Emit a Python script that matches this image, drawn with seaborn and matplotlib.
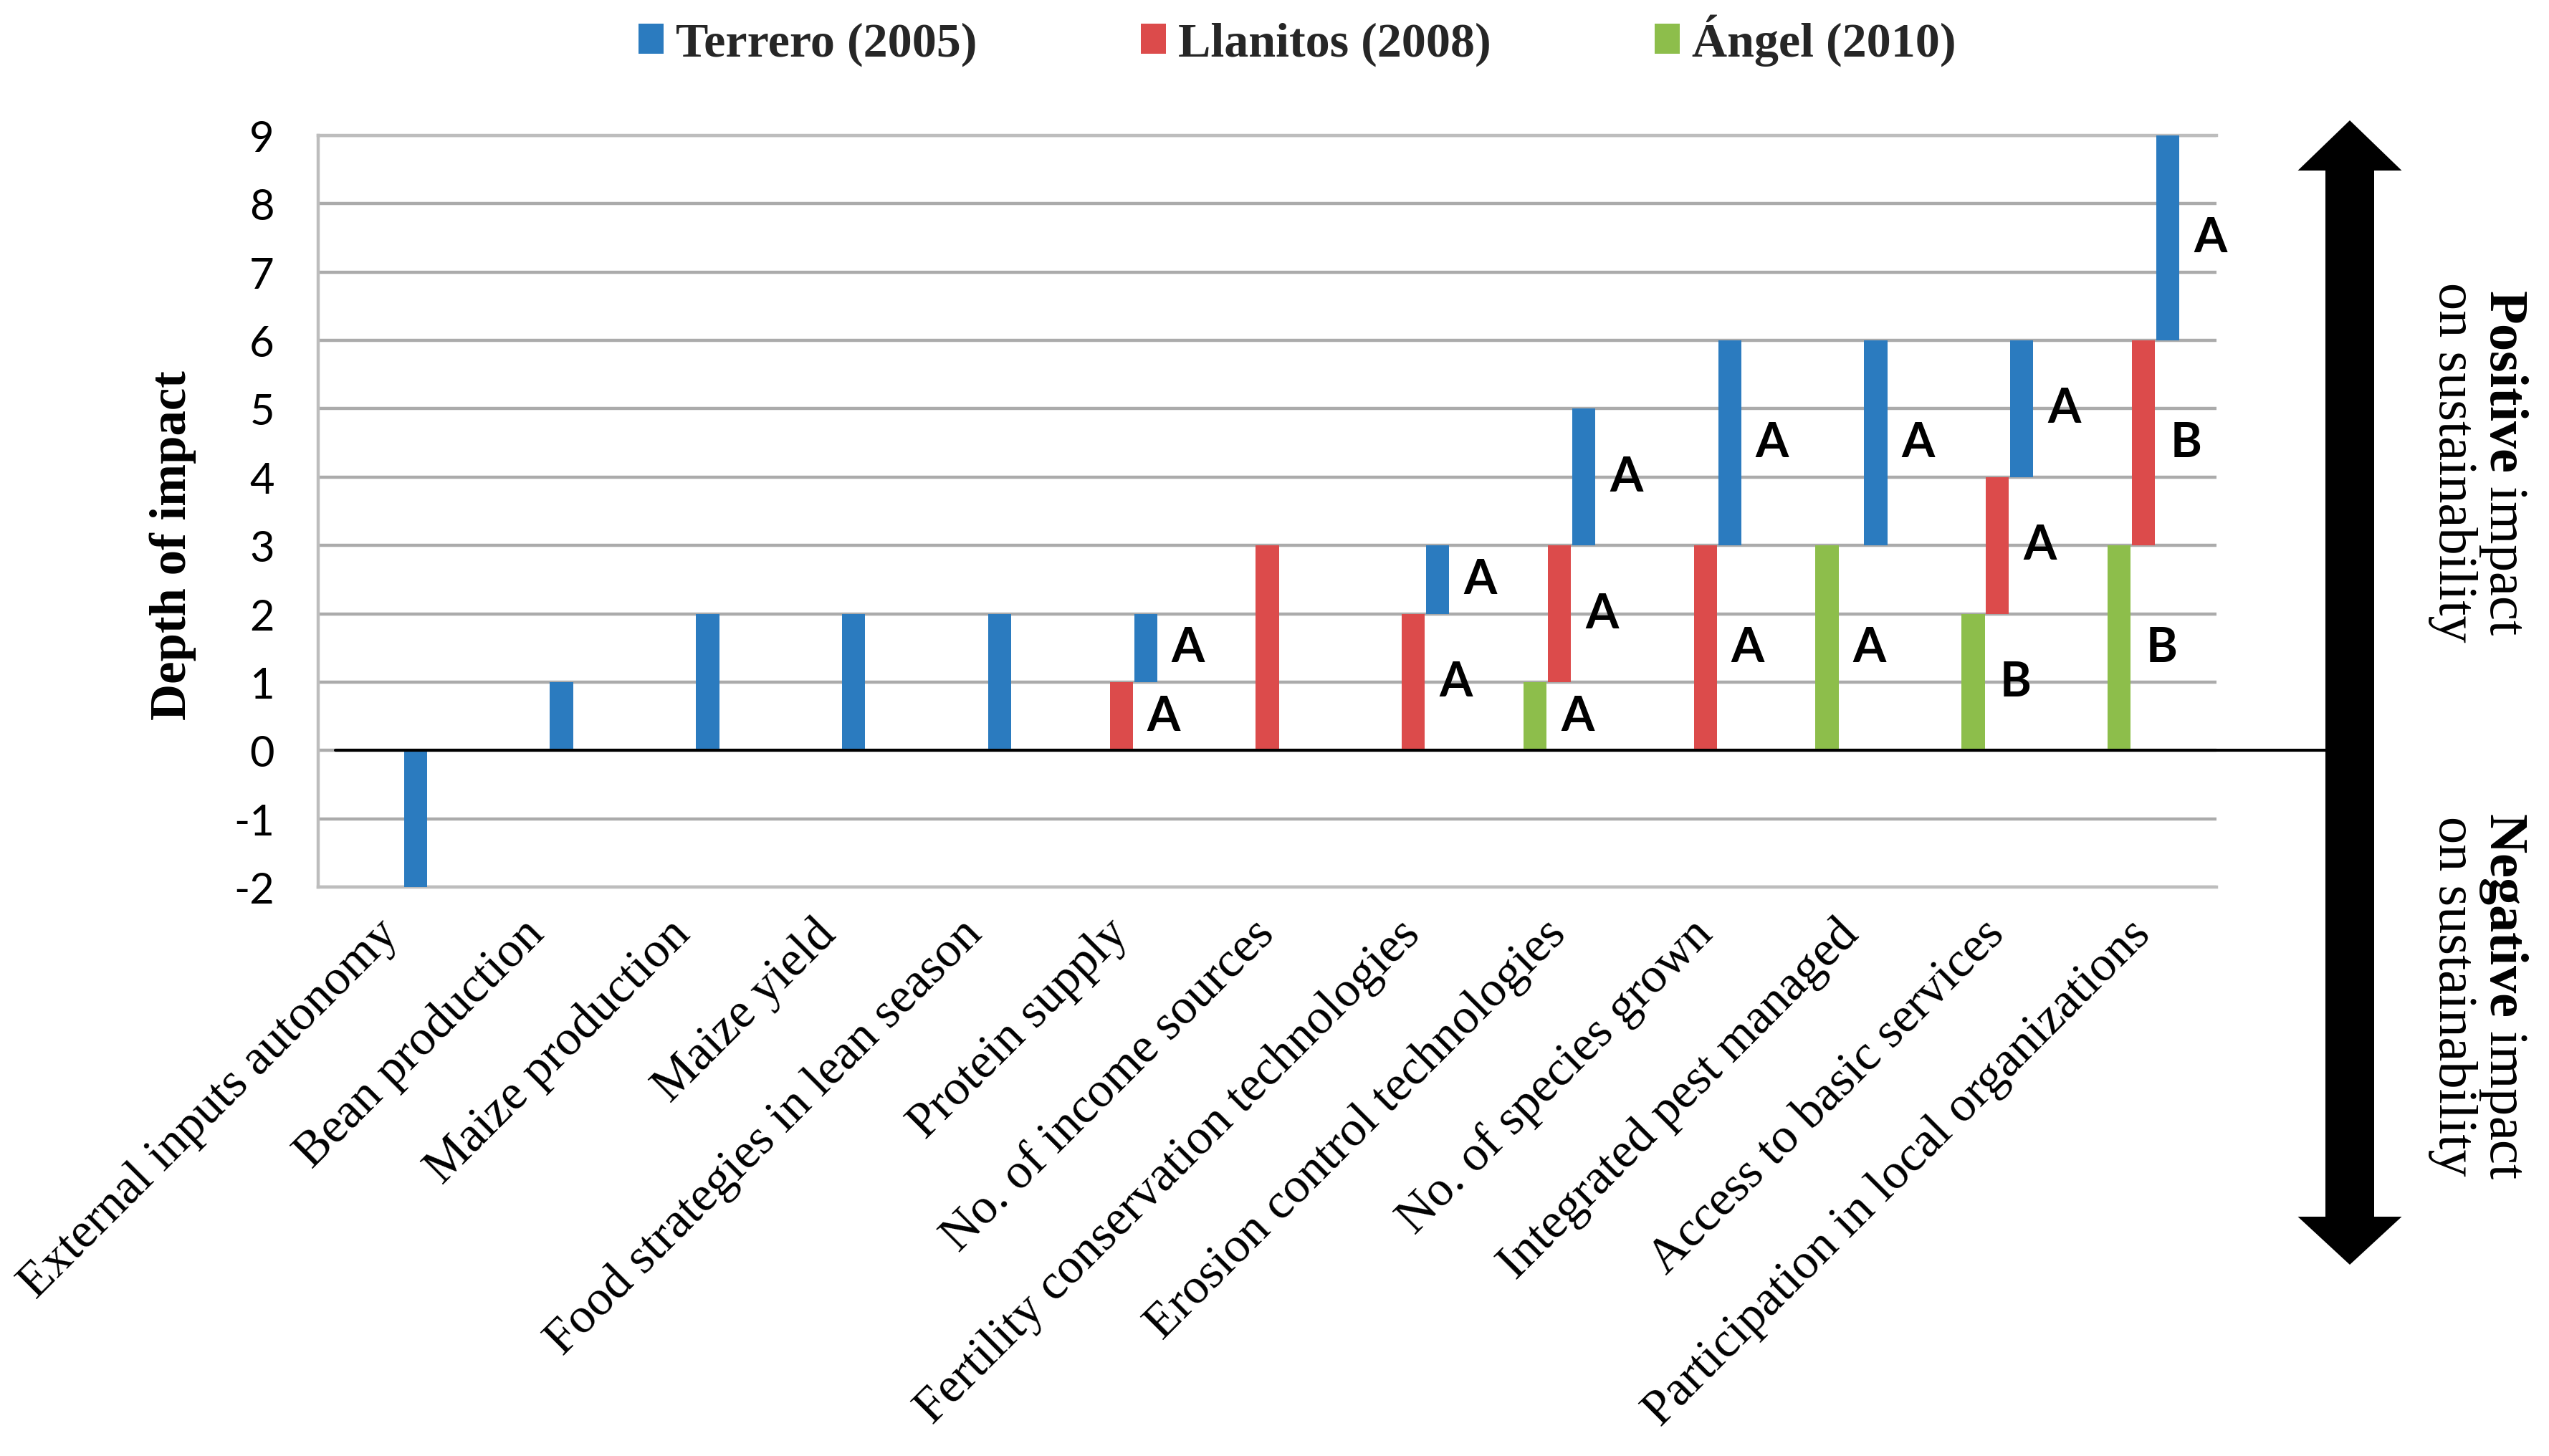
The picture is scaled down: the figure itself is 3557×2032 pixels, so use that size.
import matplotlib
matplotlib.use("Agg")
import matplotlib.pyplot as plt
from matplotlib.patches import Polygon
import pandas as pd
import seaborn as sns

# 指标 (x 轴类别)
categories = [
    "External inputs autonomy",
    "Bean production",
    "Maize production",
    "Maize yield",
    "Food strategies in lean season",
    "Protein supply",
    "No. of income sources",
    "Fertility conservation technologies",
    "Erosion control technologies",
    "No. of species grown",
    "Integrated pest managed",
    "Access to basic services",
    "Participation in local organizations",
]

# 每组内从左到右的顺序, 以及图例顺序
sites = ["Ángel (2010)", "Llanitos (2008)", "Terrero (2005)"]
legend_order = ["Terrero (2005)", "Llanitos (2008)", "Ángel (2010)"]

# 浮动柱: 下端 / 上端 (None = 无柱)
terrero_low = [-2, 0, 0, 0, 0, 1, None, 2, 3, 3, 3, 4, 6]
terrero_high = [0, 1, 2, 2, 2, 2, None, 3, 5, 6, 6, 6, 9]
llanitos_low = [None, None, None, None, None, 0, 0, 0, 1, 0, None, 2, 3]
llanitos_high = [None, None, None, None, None, 1, 3, 2, 3, 3, None, 4, 6]
angel_low = [None, None, None, None, None, None, None, None, 0, None, 0, 0, 0]
angel_high = [None, None, None, None, None, None, None, None, 1, None, 3, 2, 3]

# 柱旁字母
terrero_sig = ["", "", "", "", "", "A", "", "A", "A", "A", "A", "A", "A"]
llanitos_sig = ["", "", "", "", "", "A", "", "A", "A", "A", "", "A", "B"]
angel_sig = ["", "", "", "", "", "", "", "", "A", "", "A", "B", "B"]

yticks = list(range(-2, 10))

palette = {
    "Terrero (2005)": "#2B7BBF",
    "Llanitos (2008)": "#DC4B4B",
    "Ángel (2010)": "#8DBE4B",
}

rows = []
for site, lows, highs, sigs in [
    ("Terrero (2005)", terrero_low, terrero_high, terrero_sig),
    ("Llanitos (2008)", llanitos_low, llanitos_high, llanitos_sig),
    ("Ángel (2010)", angel_low, angel_high, angel_sig),
]:
    for cat, lo, hi, s in zip(categories, lows, highs, sigs):
        if lo is None:
            continue
        rows.append(dict(indicator=cat, site=site, low=lo, span=hi - lo, sig=s))
df = pd.DataFrame(rows)

sns.set_theme(style="whitegrid")
plt.rcParams["font.family"] = ["Lato", "DejaVu Sans"]
plt.rcParams["axes.unicode_minus"] = False
plt.rcParams["mathtext.fontset"] = "custom"
plt.rcParams["mathtext.rm"] = "Liberation Serif"
plt.rcParams["mathtext.bf"] = "Liberation Serif:bold"

W, H = 3557, 2033
fig = plt.figure(figsize=(W / 200, H / 200), dpi=200)
fig.patch.set_facecolor("white")
ax = fig.add_axes([444 / W, 1 - 1239 / H, (3093 - 444) / W, (1239 - 190) / H])

sns.barplot(
    data=df, x="indicator", y="span", hue="site",
    order=categories, hue_order=sites, palette=palette,
    width=0.5, gap=0.05, dodge=True, errorbar=None, legend=False,
    saturation=1, linewidth=0, edgecolor="none", zorder=3, ax=ax,
)

# 把柱子抬到各自的下端, 并写上字母
for site, container in zip(sites, ax.containers):
    sub = df[df["site"] == site]
    for bar, lo, s in zip(container, sub["low"], sub["sig"]):
        bar.set_y(lo)
        if s:
            ax.text(
                bar.get_x() + bar.get_width() / 2 + 0.29,
                lo + bar.get_height() / 2,
                s, ha="center", va="center", fontsize=24,
                fontweight="bold", family="Lato", color="black", zorder=5,
            )

ax.set_xlim(-0.5, len(categories) - 0.5)
ax.set_ylim(-2, 9)
ax.set_yticks(yticks)
ax.set_yticklabels([str(v) for v in yticks], fontsize=21.5, color="black")
ax.tick_params(axis="y", pad=22, length=0)
ax.tick_params(axis="x", pad=20, length=0)
ax.set_xticks(range(len(categories)))
ax.set_xticklabels(
    categories, rotation=45, ha="right", va="center", rotation_mode="anchor",
    fontsize=25, family="Liberation Serif", color="black",
)
ax.set_xlabel("")
ax.set_ylabel("Depth of impact", fontsize=25.5, fontweight="bold",
              family="Liberation Serif", color="black", va="center")
ax.yaxis.set_label_coords(-0.0766, 0.456)

ax.set_axisbelow(True)
ax.xaxis.grid(False)
ax.yaxis.grid(True, color="#ABABAB", linewidth=1.6)
ax.spines["right"].set_visible(False)
for side in ["left", "top", "bottom"]:
    ax.spines[side].set_color("#BDBDBD")
    ax.spines[side].set_linewidth(1.6)

# 零线一直延伸到右侧箭头
ax.axhline(0, xmin=0.0092, xmax=1.058, color="black", linewidth=1.5,
           clip_on=False, zorder=4)

# 图例
handles = dict(zip(sites, ax.containers))
fig.legend(
    [handles[s] for s in legend_order], legend_order,
    loc="center", bbox_to_anchor=(0.509, 0.972), ncol=3, frameon=False,
    prop=dict(family="Liberation Serif", weight="bold", size=24.5),
    handlelength=0.52, handleheight=0.56, handletextpad=0.25,
    columnspacing=3.35, borderaxespad=0,
)

# 右侧双向箭头
xc, sh, hh = 3279, 34, 72.5
pts = [
    (xc, 169), (xc + hh, 239), (xc + sh, 239), (xc + sh, 1699), (xc + hh, 1699),
    (xc, 1766), (xc - hh, 1699), (xc - sh, 1699), (xc - sh, 239), (xc - hh, 239),
]
fig.patches.append(Polygon([(x / W, 1 - y / H) for x, y in pts], closed=True,
                           facecolor="black", edgecolor="none",
                           transform=fig.transFigure))

fig.text(0.9725, 1 - 645 / H, r"$\mathbf{Positive}$ impact" + "\non sustainability",
         rotation=270, ha="center", va="center", multialignment="center",
         family="Liberation Serif", size=27.5, linespacing=1.0, color="black")
fig.text(0.9725, 1 - 1390 / H, r"$\mathbf{Negative}$ impact" + "\non sustainability",
         rotation=270, ha="center", va="center", multialignment="center",
         family="Liberation Serif", size=27.5, linespacing=1.0, color="black")

fig.savefig("out.png", dpi=200)
